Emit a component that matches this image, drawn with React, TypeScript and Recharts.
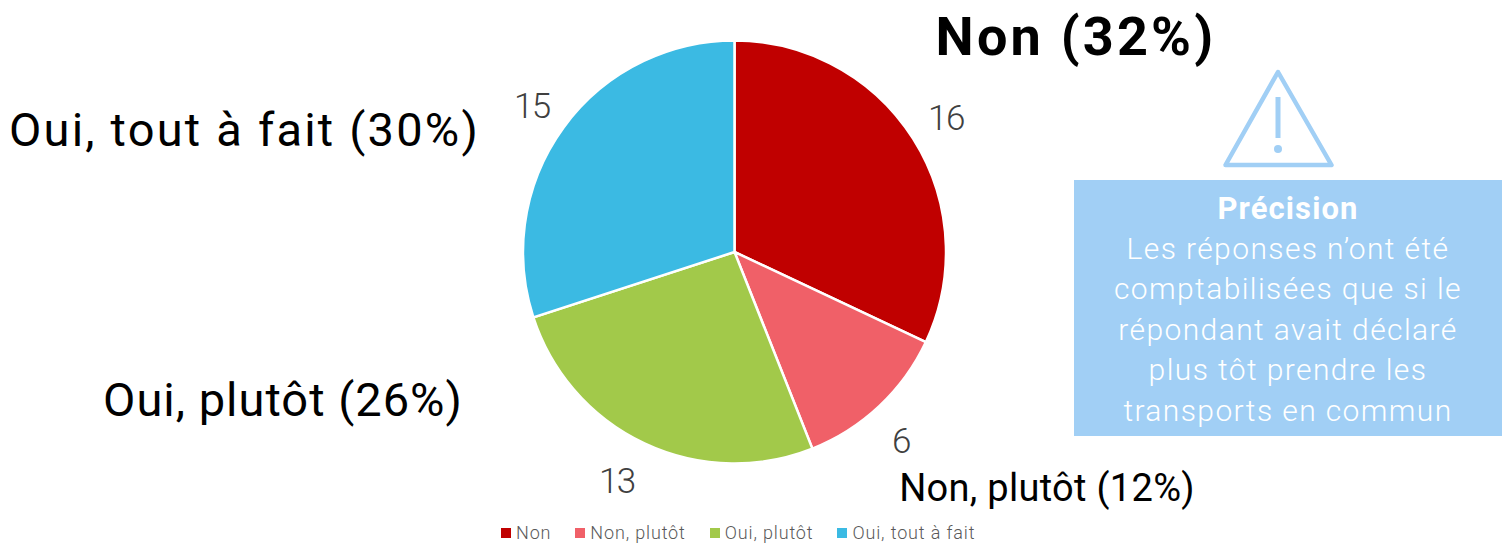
import React from "react";
import { PieChart, Pie, Cell, Legend } from "recharts";

const categories = ["Non", "Non, plutôt", "Oui, plutôt", "Oui, tout à fait"];
const values = [16, 6, 13, 15];
const colors = ["#C00000", "#F06068", "#A2C94A", "#3BBAE3"];
const noteTitle = "Précision";
const noteLines = [
  "Les réponses n’ont été",
  "comptabilisées que si le",
  "répondant avait déclaré",
  "plus tôt prendre les",
  "transports en commun",
];
const annotations = [
  { text: "Non (32%)", x: 1076, y: 55, size: 54, weight: 700, spacing: 3.2 },
  { text: "Non, plutôt (12%)", x: 1047, y: 501, size: 38, weight: 400, spacing: 0.3 },
  { text: "Oui, plutôt (26%)", x: 283, y: 416, size: 47, weight: 400, spacing: 1 },
  { text: "Oui, tout à fait (30%)", x: 244.5, y: 146, size: 47, weight: 400, spacing: 2.2 },
];
const labelNudge = [
  [0, 1],
  [-5, 7],
  [-11, 3],
  [0, 2],
];

const data = categories.map((name, i) => ({ name, value: values[i] }));
const FONT = "Roboto, sans-serif";
const RAD = Math.PI / 180;

const renderLabel = (p: any) => {
  const r = p.outerRadius + 39;
  const n = labelNudge[p.index] || [0, 0];
  const x = p.cx + r * Math.cos(-p.midAngle * RAD) + n[0];
  const y = p.cy + r * Math.sin(-p.midAngle * RAD) + n[1];
  return (
    <text x={x} y={y} textAnchor="middle" dominantBaseline="central" fill="#404040" fontSize={35} fontWeight={300} letterSpacing={-1.5} fontFamily={FONT}>
      {p.value}
    </text>
  );
};

const legendContent = () => (
  <div style={{ display: "flex", gap: 24, justifyContent: "flex-start", fontFamily: FONT, fontSize: 18, fontWeight: 300, letterSpacing: 0.85, color: "#595959", lineHeight: "20px" }}>
    {categories.map((c, i) => (
      <span key={c} style={{ display: "flex", alignItems: "center", gap: 5 }}>
        <span style={{ width: 10, height: 10, background: colors[i], display: "inline-block" }} />
        {c}
      </span>
    ))}
  </div>
);

export default function App() {
  return (
    <div style={{ position: "absolute", left: 0, top: 0, width: 1502, height: 547, background: "#fff" }}>
      <PieChart width={1502} height={547} margin={{ top: 0, right: 0, bottom: 0, left: 0 }}>
        <Pie
          data={data}
          dataKey="value"
          nameKey="name"
          cx={734.5}
          cy={252}
          outerRadius={211.5}
          startAngle={90}
          endAngle={-270}
          stroke="#fff"
          strokeWidth={2.5}
          label={renderLabel}
          labelLine={false}
          isAnimationActive={false}
        >
          {data.map((d, i) => (
            <Cell key={d.name} fill={colors[i]} />
          ))}
        </Pie>
        <Legend
          content={legendContent}
          wrapperStyle={{ left: 501, width: 520, top: 523, bottom: "auto" }}
        />
        {annotations.map((a) => (
          <text key={a.text} x={a.x} y={a.y} textAnchor="middle" fontFamily={FONT} fontSize={a.size} fontWeight={a.weight} letterSpacing={a.spacing} fill="#000">
            {a.text}
          </text>
        ))}
        <path
          d="M1278 72 L1331.5 165 L1225.5 165 Z"
          fill="none"
          stroke="#A1CFF5"
          strokeWidth={4.5}
          strokeLinejoin="round"
        />
        <line x1={1278} y1={97} x2={1278} y2={138} stroke="#A1CFF5" strokeWidth={5} />
        <circle cx={1278} cy={149} r={4} fill="#A1CFF5" />
        <rect x={1074} y={180} width={428} height={256} fill="#A1CFF5" />
        <text x={1288} y={219} textAnchor="middle" fontFamily={FONT} fontSize={31} fontWeight={700} letterSpacing={1.1} fill="#fff">
          {noteTitle}
        </text>
        {noteLines.map((l, i) => (
          <text key={l} x={1288} y={259 + i * 40.4} textAnchor="middle" fontFamily={FONT} fontSize={30} fontWeight={300} letterSpacing={1.4} fill="#fff">
            {l}
          </text>
        ))}
      </PieChart>
    </div>
  );
}
